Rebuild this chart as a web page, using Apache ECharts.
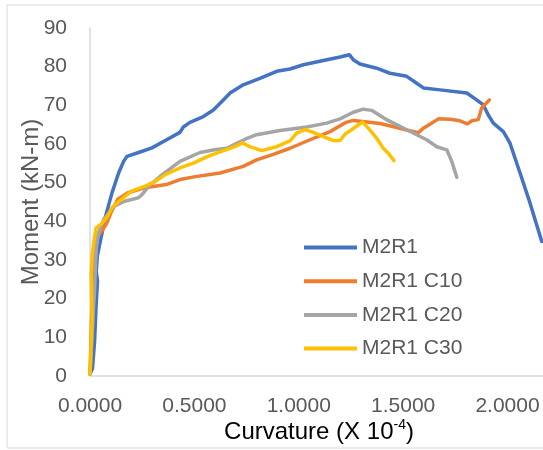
<!DOCTYPE html>
<html>
<head>
<meta charset="utf-8">
<script src="https://cdn.jsdelivr.net/npm/echarts@6/dist/echarts.min.js"></script>
<style>
html,body{margin:0;padding:0;background:#fff;}
#c{width:543px;height:450px;}
</style>
</head>
<body>
<div id="c"></div>
<script>
// Curvature (X 10^-4) vs Moment (kN-m)
const seriesNames = ['M2R1', 'M2R1 C10', 'M2R1 C20', 'M2R1 C30'];
const xTicks = [0, 0.5, 1.0, 1.5, 2.0];
const yTicks = [0, 10, 20, 30, 40, 50, 60, 70, 80, 90];

const m2r1 = [[0,0.5],[0.012,2],[0.022,9],[0.029,18],[0.036,24.5],[0.044,25],[0.043,24],[0.03,27],[0.035,31],[0.05,35],[0.073,41],[0.105,47.3],[0.137,52.5],[0.161,55.5],[0.177,56.8],[0.233,57.8],[0.297,59],[0.367,61.1],[0.431,63],[0.447,64.4],[0.479,65.6],[0.543,67.1],[0.591,68.8],[0.639,71.4],[0.671,73.2],[0.734,75.3],[0.814,77],[0.894,78.8],[0.958,79.4],[1.022,80.5],[1.118,81.6],[1.198,82.5],[1.242,83.1],[1.261,81.8],[1.293,80.7],[1.373,79.6],[1.437,78.3],[1.517,77.5],[1.565,75.7],[1.597,74.5],[1.677,74],[1.805,73.2],[1.852,71.4],[1.884,70.1],[1.908,67.5],[1.932,65.4],[1.98,63.2],[2.012,60.2],[2.06,52.5],[2.108,44.7],[2.164,34.8]];

const m2r1c10 = [[0,0.5],[0.005,10],[0.01,20],[0.02,28],[0.015,29],[0.02,33],[0.035,36],[0.057,37.5],[0.08,39.5],[0.1,42.2],[0.133,45.7],[0.182,47.4],[0.265,48.7],[0.365,49.5],[0.431,50.8],[0.498,51.5],[0.623,52.5],[0.734,54.2],[0.798,55.9],[0.878,57.3],[0.958,58.9],[1.054,61.1],[1.15,63.2],[1.227,65.6],[1.261,66.1],[1.327,65.7],[1.389,65.3],[1.46,64.4],[1.526,63.5],[1.573,62.9],[1.597,64.1],[1.634,65.3],[1.669,66.5],[1.725,66.4],[1.772,66],[1.808,65.2],[1.83,66],[1.86,66.3],[1.876,69.3],[1.913,71.4]];

const m2r1c20 = [[0,0.5],[0.008,8],[0.015,16],[0.022,22],[0.025,27],[0.03,33],[0.04,37],[0.066,40.5],[0.116,43.9],[0.166,45.2],[0.232,46.1],[0.249,46.9],[0.282,49.1],[0.335,51.6],[0.431,55.5],[0.527,57.8],[0.597,58.5],[0.655,58.9],[0.703,60.2],[0.746,61.3],[0.798,62.4],[0.91,63.5],[1.038,64.4],[1.134,65.4],[1.198,66.5],[1.261,68.2],[1.309,69],[1.349,68.7],[1.421,66.3],[1.517,63.7],[1.613,61.1],[1.661,59.3],[1.709,58.5],[1.733,55.5],[1.757,51.4]];

const m2r1c30 = [[0,0.5],[0.01,14.5],[0.006,26.6],[0.012,32],[0.018,34.5],[0.029,38.3],[0.057,39.4],[0.081,41],[0.105,43.5],[0.137,45.1],[0.199,47.8],[0.265,49.1],[0.315,50.4],[0.365,52.2],[0.431,53.8],[0.498,55.1],[0.564,56.8],[0.63,58.1],[0.697,59.4],[0.73,60.3],[0.766,59.3],[0.822,58.3],[0.894,59.3],[0.958,60.8],[0.99,62.8],[1.03,63.7],[1.07,63],[1.118,61.9],[1.166,60.9],[1.198,60.9],[1.222,62.6],[1.254,63.7],[1.278,64.7],[1.306,65.7],[1.333,64.1],[1.373,61.5],[1.405,58.9],[1.429,57.6],[1.456,55.7]];

const seriesData = [m2r1, m2r1c10, m2r1c20, m2r1c30];
const colors = ['#4472C4', '#ED7D31', '#A5A5A5', '#FFC000'];

const FONT = '"Liberation Sans", Arial, sans-serif';
const TXT = '#595959';

const chart = echarts.init(document.getElementById('c'), null, {renderer: 'canvas'});
chart.setOption({
  animation: false,
  backgroundColor: '#fff',
  color: colors,
  grid: {left: 90, top: 28, right: 0, bottom: 74, containLabel: false},
  xAxis: {
    type: 'value', min: 0, max: 2.17, interval: 0.5,
    axisLine: {show: true, lineStyle: {color: '#d9d9d9', width: 1.5}},
    axisTick: {show: false},
    splitLine: {show: false},
    axisLabel: {
      color: TXT, fontFamily: FONT, fontSize: 21, margin: 20,
      showMaxLabel: false,
      formatter: v => xTicks.indexOf(v) >= 0 ? v.toFixed(4) : ''
    }
  },
  yAxis: {
    type: 'value', min: 0, max: 90, interval: 10,
    axisLine: {show: true, lineStyle: {color: '#d9d9d9', width: 1.5}},
    axisTick: {show: false},
    splitLine: {show: false},
    axisLabel: {
      color: TXT, fontFamily: FONT, fontSize: 21, margin: 23,
      formatter: v => yTicks.indexOf(v) >= 0 ? String(v) : ''
    },
    name: 'Moment (kN-m)', nameLocation: 'middle', nameGap: 47,
    nameMoveOverlap: false,
    nameTextStyle: {color: TXT, fontFamily: FONT, fontSize: 24}
  },
  legend: {
    orient: 'vertical', left: 299, top: 232,
    itemWidth: 53, itemHeight: 14, itemGap: 12.7,
    data: seriesNames.map((n, i) => ({name: n, icon: 'path://M0,0 L53,0 L53,4 L0,4 Z', itemStyle: {color: colors[i]}})),
    textStyle: {color: TXT, fontFamily: FONT, fontSize: 21, lineHeight: 21}
  },
  graphic: [
    {type: 'rect', silent: true, z: -10,
     shape: {x: 7, y: 5, width: 640, height: 443},
     style: {fill: 'none', stroke: '#d9d9d9', lineWidth: 1}},
    {type: 'text', silent: true, x: 319, y: 432,
     style: {
       text: '{a|Curvature (X 10}{s|-4}{a|)}',
       align: 'center', verticalAlign: 'middle',
       textAlign: 'center', textVerticalAlign: 'middle',
       rich: {
         a: {fontFamily: FONT, fontSize: 24, color: TXT, lineHeight: 28},
         s: {fontFamily: FONT, fontSize: 14, color: TXT, lineHeight: 28, verticalAlign: 'top', padding: [0, 0, 12, 0]}
       }
     }}
  ],
  series: seriesData.map((d, i) => ({
    name: seriesNames[i],
    type: 'line',
    data: d,
    showSymbol: false,
    symbol: 'none',
    smooth: false,
    lineStyle: {color: colors[i], width: 3.5, join: 'round', cap: 'round'},
    itemStyle: {color: colors[i]}
  }))
});
</script>
</body>
</html>
